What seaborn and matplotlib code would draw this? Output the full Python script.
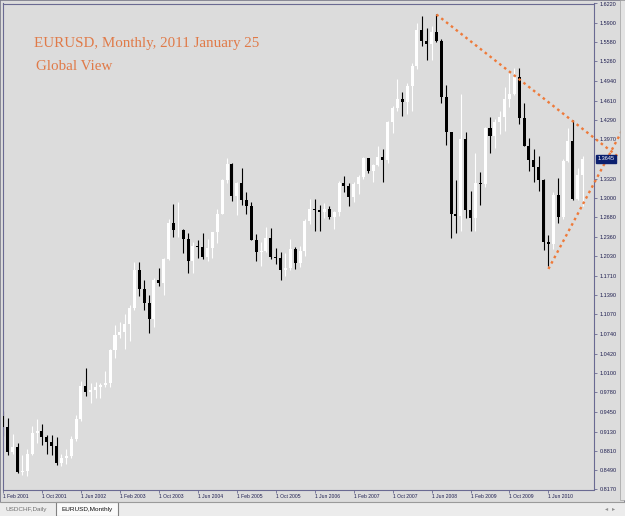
import numpy as np
import pandas as pd
import matplotlib
matplotlib.use("Agg")
import matplotlib.pyplot as plt
import seaborn as sns
from matplotlib.patches import Rectangle

# ---------------- data (EURUSD monthly, Feb 2001 .. Jan 2011) ----------------
months = pd.date_range("2001-02-01", "2011-01-01", freq="MS")

opens = [
    0.9384, 0.9209, 0.8794, 0.8880, 0.8459, 0.8480, 0.8759, 0.9110, 0.9142, 0.9034, 0.8955,
    0.8898, 0.8605, 0.8691, 0.8720, 0.9011, 0.9335, 0.9877, 0.9782, 0.9817, 0.9862, 0.9893, 0.9931,
    1.0485, 1.0730, 1.0786, 1.0910, 1.1180, 1.1798, 1.1495, 1.1265, 1.0987, 1.1645, 1.1590, 1.1990,
    1.2592, 1.2463, 1.2468, 1.2316, 1.1961, 1.2200, 1.2185, 1.2025, 1.2174, 1.2435, 1.2737, 1.3290,
    1.3555, 1.3036, 1.3244, 1.2961, 1.2868, 1.2303, 1.2100, 1.2124, 1.2340, 1.2024, 1.1997, 1.1798,
    1.1847, 1.2158, 1.1929, 1.2115, 1.2622, 1.2810, 1.2795, 1.2767, 1.2812, 1.2676, 1.2760, 1.3245,
    1.3196, 1.3021, 1.3233, 1.3354, 1.3660, 1.3444, 1.3537, 1.3683, 1.3635, 1.4262, 1.4487, 1.4632,
    1.4592, 1.4860, 1.5180, 1.5786, 1.5604, 1.5549, 1.5756, 1.5605, 1.4670, 1.4085, 1.2731, 1.2694,
    1.3971, 1.2797, 1.2661, 1.3240, 1.3232, 1.4155, 1.4033, 1.4258, 1.4332, 1.4638, 1.4719, 1.5003,
    1.4324, 1.3866, 1.3630, 1.3509, 1.3294, 1.2269, 1.2234, 1.3052, 1.2683, 1.3608, 1.3941, 1.2985,
    1.3383,
]
highs = [
    0.9462, 0.9355, 0.9097, 0.8946, 0.8734, 0.8836, 0.9223, 0.9343, 0.9251, 0.9069, 0.9073,
    0.9032, 0.8764, 0.8835, 0.9057, 0.9402, 0.9960, 1.0185, 0.9930, 0.9957, 0.9933, 1.0141, 1.0497,
    1.0903, 1.0939, 1.1080, 1.1232, 1.1934, 1.1932, 1.1645, 1.1392, 1.1681, 1.1835, 1.2008, 1.2648,
    1.2898, 1.2927, 1.2486, 1.2425, 1.2275, 1.2297, 1.2425, 1.2315, 1.2440, 1.2820, 1.3312, 1.3668,
    1.3586, 1.3270, 1.3487, 1.3095, 1.2930, 1.2408, 1.2262, 1.2515, 1.2500, 1.2167, 1.2096, 1.2090,
    1.2323, 1.2185, 1.2197, 1.2652, 1.2980, 1.2979, 1.2889, 1.2915, 1.2874, 1.2790, 1.3280, 1.3366,
    1.3255, 1.3270, 1.3375, 1.3682, 1.3666, 1.3559, 1.3852, 1.3816, 1.4279, 1.4527, 1.4966, 1.4757,
    1.4905, 1.5239, 1.5904, 1.6019, 1.5818, 1.5843, 1.6038, 1.5627, 1.4867, 1.4089, 1.3300, 1.4719,
    1.4085, 1.3111, 1.3741, 1.3431, 1.4180, 1.4338, 1.4306, 1.4447, 1.4844, 1.5061, 1.5144, 1.5145,
    1.4579, 1.3990, 1.3817, 1.3693, 1.3318, 1.2384, 1.3090, 1.3334, 1.3648, 1.4158, 1.4283, 1.3500,
    1.3695,
]
lows = [
    0.9055, 0.8739, 0.8757, 0.8442, 0.8403, 0.8393, 0.8737, 0.8947, 0.8910, 0.8750, 0.8740,
    0.8576, 0.8564, 0.8591, 0.8700, 0.8970, 0.9300, 0.9712, 0.9604, 0.9689, 0.9686, 0.9862, 0.9865,
    1.0340, 1.0682, 1.0500, 1.0622, 1.1150, 1.1372, 1.1140, 1.0762, 1.0856, 1.1548, 1.1395, 1.1970,
    1.2345, 1.2355, 1.2088, 1.1759, 1.1760, 1.1999, 1.1985, 1.1951, 1.2005, 1.2247, 1.2727, 1.3240,
    1.2953, 1.2725, 1.2880, 1.2740, 1.2297, 1.1951, 1.1868, 1.2100, 1.1985, 1.1903, 1.1639, 1.1707,
    1.1800, 1.1826, 1.1862, 1.2030, 1.2570, 1.2455, 1.2455, 1.2660, 1.2644, 1.2485, 1.2705, 1.3094,
    1.2864, 1.2927, 1.3071, 1.3310, 1.3405, 1.3263, 1.3525, 1.3260, 1.3570, 1.4068, 1.4442, 1.4362,
    1.4395, 1.4436, 1.5138, 1.5510, 1.5281, 1.5283, 1.5580, 1.4580, 1.3880, 1.2330, 1.2423, 1.2460,
    1.2662, 1.2455, 1.2456, 1.2886, 1.3180, 1.3750, 1.3830, 1.4052, 1.4107, 1.4506, 1.4708, 1.4218,
    1.3858, 1.3443, 1.3265, 1.3113, 1.2143, 1.1876, 1.2150, 1.2589, 1.2645, 1.3600, 1.2969, 1.2969,
    1.2867,
]
closes = [
    0.9209, 0.8794, 0.8880, 0.8459, 0.8480, 0.8759, 0.9110, 0.9142, 0.9034, 0.8955, 0.8898,
    0.8605, 0.8691, 0.8720, 0.9011, 0.9335, 0.9877, 0.9782, 0.9817, 0.9862, 0.9893, 0.9931, 1.0485,
    1.0730, 1.0786, 1.0910, 1.1180, 1.1798, 1.1495, 1.1265, 1.0987, 1.1645, 1.1590, 1.1990, 1.2592,
    1.2463, 1.2468, 1.2316, 1.1961, 1.2200, 1.2185, 1.2025, 1.2174, 1.2435, 1.2737, 1.3290, 1.3555,
    1.3036, 1.3244, 1.2961, 1.2868, 1.2303, 1.2100, 1.2124, 1.2340, 1.2024, 1.1997, 1.1798, 1.1847,
    1.2158, 1.1929, 1.2115, 1.2622, 1.2810, 1.2795, 1.2767, 1.2812, 1.2676, 1.2760, 1.3245, 1.3196,
    1.3021, 1.3233, 1.3354, 1.3660, 1.3444, 1.3537, 1.3683, 1.3635, 1.4262, 1.4487, 1.4632, 1.4592,
    1.4860, 1.5180, 1.5786, 1.5604, 1.5549, 1.5756, 1.5605, 1.4670, 1.4085, 1.2731, 1.2694, 1.3971,
    1.2797, 1.2661, 1.3240, 1.3232, 1.4155, 1.4033, 1.4258, 1.4332, 1.4638, 1.4719, 1.5003, 1.4324,
    1.3866, 1.3630, 1.3509, 1.3294, 1.2269, 1.2234, 1.3052, 1.2683, 1.3608, 1.3941, 1.2985, 1.3383,
    1.3645,
]

y_ticks = [0.8170, 0.8490, 0.8810, 0.9130, 0.9450, 0.9780, 1.0100, 1.0420, 1.0740,
           1.1070, 1.1390, 1.1710, 1.2030, 1.2360, 1.2680, 1.3000, 1.3320, 1.3970,
           1.4290, 1.4610, 1.4940, 1.5260, 1.5580, 1.5900, 1.6220]

# trend lines (month index, price)
trend_upper_idx = [89, 126.7]
trend_upper_px = [1.6038, 1.3658]
trend_lower_idx = [112, 127.7]
trend_lower_px = [1.1823, 1.4203]

title_1 = "EURUSD, Monthly, 2011 January 25"
title_2 = "Global View"

# ---------------- styling ----------------
W, H = 625, 516
BG = "#dcdcdc"
FRAME = "#6a6a92"
LBL = "#1e1e50"
ORANGE = "#ee7a3a"
TITLE_C = "#e07a48"

sns.set_theme(style="white", rc={
    "axes.facecolor": BG, "figure.facecolor": BG,
    "axes.edgecolor": FRAME, "axes.linewidth": 0.8,
})
plt.rcParams["font.family"] = ["Liberation Sans", "DejaVu Sans"]

fig = plt.figure(figsize=(W / 100, H / 100), dpi=100)


def fx(x):
    return x / W


def fy(y):
    return 1 - y / H


ax_l, ax_r, ax_t, ax_b = 2.5, 594.0, 3.5, 489.5
ax = fig.add_axes([fx(ax_l), fy(ax_b), (ax_r - ax_l) / W, (ax_b - ax_t) / H])

df = pd.DataFrame({"idx": np.arange(len(months)), "open": opens, "high": highs,
                   "low": lows, "close": closes})
df["bull"] = df["close"] >= df["open"]
df["body_lo"] = df[["open", "close"]].min(axis=1)
df["body_h"] = (df["close"] - df["open"]).abs().clip(lower=0.0011)

for is_bull, col in [(True, "white"), (False, "black")]:
    d = df[df["bull"] == is_bull]
    ax.vlines(d["idx"], d["low"], d["high"], color=col, lw=0.8, zorder=2)
    ax.bar(d["idx"], d["body_h"], bottom=d["body_lo"], width=0.62, color=col,
           linewidth=0, zorder=3)

# trend lines
for xs, ys in [(trend_upper_idx, trend_upper_px), (trend_lower_idx, trend_lower_px)]:
    sns.lineplot(x=xs, y=ys, ax=ax, color=ORANGE, lw=1.7, linestyle=(0, (1.1, 1.5)),
                 estimator=None, sort=False, legend=False, clip_on=False, zorder=5)

ax.set_xlim(-0.1, (ax_r - 3) / 4.87)
ax.set_ylim(0.8170, 1.6220)
ax.set_xlabel("")
ax.set_ylabel("")

xt = list(range(0, len(months), 8))
ax.set_xticks(xt)
ax.set_xticklabels([f"1 {months[i]:%b %Y}" for i in xt], ha="left")
ax.yaxis.tick_right()
ax.set_yticks(y_ticks)
ax.set_yticklabels([f"{v:.4f}" for v in y_ticks])
ax.tick_params(axis="x", direction="out", length=2.5, width=0.6, color=FRAME,
               labelsize=3.6, labelcolor=LBL, pad=1.0, bottom=True)
ax.tick_params(axis="y", direction="out", length=2.5, width=0.6, color=FRAME,
               labelsize=4.0, labelcolor=LBL, pad=1.5, right=True, left=False)
for s in ax.spines.values():
    s.set_visible(True)
    s.set_color(FRAME)

# current price label
ax.annotate(f"{closes[-1]:.4f}", xy=(1.0, closes[-1]), xycoords=("axes fraction", "data"),
            xytext=(2.5, 0), textcoords="offset points", ha="left", va="center",
            fontsize=4.0, color="white",
            bbox=dict(boxstyle="square,pad=0.25", fc="#0b1f6e", ec="#0b1f6e"),
            annotation_clip=False, zorder=6)

# titles
fig.text(fx(34), fy(43), title_1, family="Liberation Serif", fontsize=10.8,
         color=TITLE_C, va="center", ha="left")
fig.text(fx(36), fy(67), title_2, family="Liberation Serif", fontsize=10.8,
         color=TITLE_C, va="center", ha="left")

# window chrome: outer border, tab bar, scrollbar
fig.add_artist(Rectangle((0, 0), 1, 1, transform=fig.transFigure, fill=False,
                         ec="#7a7a8a", lw=1.2))
fig.add_artist(Rectangle((0, 0), 1, (H - 502) / H, transform=fig.transFigure,
                         fc="#ececec", ec="none"))
fig.add_artist(plt.Line2D([0, 1], [fy(502), fy(502)], transform=fig.transFigure,
                          color="#9a9a9a", lw=0.8))
fig.add_artist(Rectangle((fx(56), 0), (118 - 56) / W, (H - 502) / H,
                         transform=fig.transFigure, fc="#fafafa", ec="#808080", lw=0.8))
fig.text(fx(5), fy(509.5), "USDCHF,Daily", fontsize=4.6, color="#707070",
         va="center", ha="left")
fig.text(fx(62), fy(509.5), "EURUSD,Monthly", fontsize=4.6, color="#101010",
         va="center", ha="left")
fig.text(fx(607), fy(509), "\u25c2", fontsize=4.5, color="#909090", va="center",
         ha="center", family="DejaVu Sans")
fig.text(fx(614), fy(509), "\u25b8", fontsize=4.5, color="#909090", va="center",
         ha="center", family="DejaVu Sans")
fig.add_artist(Rectangle((fx(620), fy(500)), 5 / W, 500 / H, transform=fig.transFigure,
                         fc="#e4e4e4", ec="#a0a0a0", lw=0.5))

fig.savefig("out.png", dpi=100, facecolor=fig.get_facecolor())
